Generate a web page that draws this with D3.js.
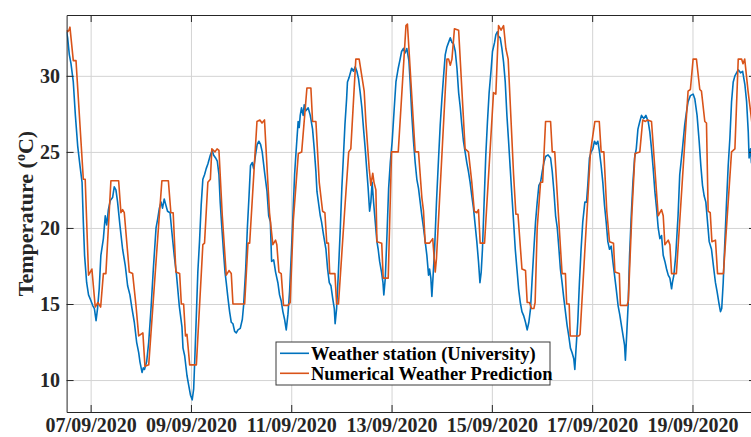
<!DOCTYPE html>
<html>
<head>
<meta charset="utf-8">
<script src="https://cdn.jsdelivr.net/npm/d3@7"></script>
<style>
  html, body { margin: 0; padding: 0; background: #fff; }
  svg { display: block; }
</style>
</head>
<body>
<svg id="chart" width="751" height="437"></svg>
<script>
// ---- data (hours since 07/09/2020 00:00, temperature in °C) ----
const seriesNames = ["Weather station (University)", "Numerical Weather Prediction"];
const xTickLabels = ["07/09/2020","09/09/2020","11/09/2020","13/09/2020","15/09/2020","17/09/2020","19/09/2020"];
const yTickValues = [10, 15, 20, 25, 30];
const yLabel = "Temperature (";

const stationSeries = [
[-11.5,32.9],[-11.0,32.5],[-10.2,31.4],[-9.4,30.8],[-8.3,29.6],[-7.3,27.4],[-6.2,25.4],[-5.1,24.1],[-4.1,23.0],[-3.5,20.4],
[-2.9,18.2],[-1.9,16.4],[-1.0,15.6],[0.2,15.2],[1.0,14.9],[1.8,14.7],[2.6,13.9],[3.3,14.7],[4.1,16.0],[4.9,18.2],
[6.1,19.3],[7.0,20.8],[7.7,20.2],[8.5,21.2],[9.4,21.8],[10.5,22.0],[11.3,22.7],[12.1,22.5],[12.9,21.7],[14.0,20.2],
[15.3,18.6],[16.6,17.5],[17.7,16.2],[18.8,15.6],[19.8,14.7],[20.9,13.8],[22.0,12.5],[23.0,11.8],[23.6,11.2],[24.6,10.5],
[25.2,10.8],[25.8,10.7],[26.8,11.2],[27.8,12.5],[28.9,14.7],[30.0,17.3],[31.3,20.0],[32.1,20.6],[32.9,21.3],[33.7,21.7],
[34.4,21.3],[35.2,21.9],[36.0,21.5],[36.8,21.1],[38.0,21.0],[38.9,19.7],[40.0,18.2],[41.1,16.9],[42.4,14.9],[43.7,13.5],
[44.2,12.1],[45.0,11.6],[46.1,10.3],[47.0,9.6],[47.8,9.0],[48.6,8.7],[49.3,9.4],[49.8,11.2],[50.6,14.3],[51.3,17.1],
[52.1,19.1],[52.9,21.5],[53.7,23.2],[54.5,23.5],[55.3,23.9],[56.1,24.2],[57.3,24.8],[58.2,25.1],[58.8,24.8],[59.8,24.6],
[60.6,24.4],[61.4,23.5],[62.0,21.7],[62.8,20.0],[63.6,18.4],[64.3,17.1],[64.9,16.4],[65.7,15.4],[66.5,14.5],[67.3,13.8],
[68.1,13.7],[68.9,13.2],[69.7,13.1],[70.5,13.3],[71.6,13.4],[72.6,14.0],[73.2,14.9],[74.2,17.3],[75.0,20.0],[75.8,22.1],
[76.5,24.1],[77.3,24.3],[78.0,23.9],[78.9,24.8],[79.7,25.5],[80.5,25.7],[81.3,25.5],[82.1,25.0],[83.2,23.7],[84.4,22.4],
[85.2,20.8],[86.0,20.4],[86.6,17.8],[87.6,17.9],[88.5,17.1],[89.6,16.4],[90.4,15.6],[91.2,15.2],[92.0,14.5],[92.8,14.0],
[93.6,13.3],[94.4,14.3],[95.2,15.8],[96.0,18.2],[96.8,20.8],[97.6,23.5],[98.2,24.8],[99.3,27.0],[99.8,26.6],[100.3,27.4],
[100.9,27.9],[101.7,27.4],[102.2,28.1],[103.0,27.7],[104.1,27.9],[105.1,27.4],[106.2,26.5],[107.0,25.2],[107.8,23.7],[108.3,22.4],
[108.9,21.8],[109.9,20.8],[110.5,20.4],[111.5,19.5],[112.6,18.6],[113.4,17.3],[114.2,16.4],[115.0,16.2],[115.8,15.4],[116.6,14.7],
[117.0,13.7],[117.7,14.7],[118.5,16.9],[119.4,19.7],[120.2,22.6],[121.0,24.8],[121.7,26.8],[122.5,28.5],[122.9,29.6],[123.7,29.9],
[124.9,30.5],[125.8,30.3],[126.6,30.6],[127.4,30.3],[128.2,29.8],[129.0,28.9],[129.8,27.9],[130.6,26.5],[131.4,25.2],[132.2,23.7],
[132.8,22.6],[133.5,21.1],[134.1,21.7],[134.7,23.0],[135.4,21.7],[136.2,20.4],[137.0,19.1],[137.6,18.6],[138.3,17.8],[139.2,17.1],
[139.9,16.4],[140.3,15.6],[141.0,16.7],[141.8,19.5],[142.6,22.6],[143.4,24.3],[144.3,25.7],[145.3,27.9],[146.1,29.6],[147.2,30.5],
[148.1,31.1],[148.8,31.6],[149.7,31.8],[150.5,31.5],[151.3,31.8],[152.3,31.0],[152.9,29.6],[153.7,27.4],[154.5,25.7],[155.3,24.3],
[156.1,23.2],[156.9,22.6],[157.7,21.7],[158.5,20.8],[159.3,20.0],[160.1,19.1],[160.9,18.2],[161.7,16.9],[162.2,17.3],[162.8,16.7],
[163.3,15.5],[163.9,16.9],[164.6,18.6],[165.5,21.7],[166.5,24.6],[167.3,26.8],[168.1,28.5],[168.9,30.0],[169.7,31.4],[170.5,31.9],
[171.3,32.2],[172.1,32.5],[172.9,32.2],[173.7,32.1],[174.5,31.6],[175.3,30.5],[176.1,28.9],[176.9,27.9],[177.6,26.8],[178.4,25.7],
[179.2,25.0],[180.0,24.3],[180.8,23.7],[181.6,23.0],[182.4,22.1],[183.2,21.3],[184.0,20.2],[184.8,19.1],[185.6,17.8],[186.3,16.4],
[186.9,17.1],[187.5,18.6],[188.3,21.7],[189.1,24.8],[189.9,27.0],[190.7,28.9],[191.7,30.5],[192.3,31.6],[193.3,32.2],[193.9,32.7],
[194.6,32.9],[195.2,32.6],[196.0,32.5],[196.8,31.8],[197.6,30.9],[198.4,29.6],[199.2,27.4],[200.0,25.7],[200.8,23.9],[201.6,22.1],
[202.4,20.4],[203.2,18.6],[204.0,17.3],[204.8,16.0],[205.6,15.1],[206.4,14.5],[207.3,14.2],[208.1,13.8],[208.9,13.3],[209.7,13.8],
[210.5,14.7],[211.3,16.7],[212.1,18.6],[212.9,20.4],[213.7,21.7],[214.5,22.8],[215.3,23.0],[216.1,23.7],[216.9,24.3],[217.7,24.7],
[218.9,24.8],[220.1,24.6],[220.9,23.7],[221.7,22.4],[222.5,20.8],[223.3,20.0],[224.1,18.6],[224.8,17.3],[225.6,16.4],[226.4,15.4],
[227.2,14.5],[228.0,13.6],[228.8,12.9],[229.6,12.1],[230.4,11.8],[231.2,11.4],[231.7,10.7],[232.3,12.1],[233.1,13.8],[233.9,16.4],
[234.7,18.6],[235.5,20.4],[236.5,21.7],[237.3,21.7],[237.9,22.8],[238.7,24.6],[239.5,25.0],[240.3,25.2],[241.1,25.7],[241.9,25.5],
[242.7,25.7],[243.5,25.0],[244.3,24.1],[245.1,23.0],[245.9,21.5],[246.7,20.4],[247.5,19.1],[248.3,18.6],[249.1,18.8],[249.9,17.8],
[250.7,16.9],[251.5,16.0],[252.4,14.9],[253.2,14.3],[254.0,13.6],[254.8,12.9],[255.5,12.3],[255.9,11.3],[256.6,13.2],[257.2,14.9],
[257.9,18.2],[258.7,20.8],[259.5,23.0],[260.3,24.6],[261.1,25.2],[261.9,26.5],[262.8,27.0],[263.6,27.4],[264.7,27.2],[265.7,27.4],
[266.8,27.0],[267.6,26.3],[268.4,25.2],[269.2,23.9],[270.0,22.4],[270.8,21.3],[271.6,20.0],[272.4,19.3],[273.2,19.5],[274.0,18.2],
[274.8,17.8],[275.6,17.3],[276.4,16.9],[277.2,16.7],[278.0,16.0],[278.4,16.4],[279.1,16.9],[280.0,18.2],[281.1,20.8],[281.9,23.5],
[283.2,25.2],[284.3,26.8],[285.1,27.6],[285.9,28.3],[287.0,28.7],[288.3,28.8],[289.1,28.5],[290.2,27.4],[291.2,25.7],[292.0,24.1],
[292.8,22.8],[293.6,22.1],[294.4,21.7],[295.2,20.4],[296.0,19.1],[297.1,18.6],[298.2,17.3],[299.0,16.4],[299.8,15.8],[300.6,15.1],
[301.4,14.5],[302.0,14.7],[302.7,16.4],[303.5,19.1],[304.3,21.7],[305.1,24.1],[305.9,25.9],[306.7,28.3],[307.5,29.6],[308.3,30.0],
[309.1,30.2],[309.9,30.4],[311.0,30.2],[312.0,30.3],[313.1,29.4],[313.9,28.3],[314.7,26.3],[315.1,24.6],[315.8,25.2],[316.2,24.3],
[317.0,24.0],[318.4,23.6]
];

const nwpSeries = [
[-11.5,33.0],[-11.0,32.9],[-10.4,33.0],[-9.9,33.2],[-8.3,31.0],[-7.0,31.0],[-3.5,23.2],[-2.6,23.2],[-1.0,16.9],[0.6,17.3],
[2.2,14.8],[3.5,15.1],[4.8,14.8],[6.1,17.0],[7.3,17.0],[9.7,23.1],[13.4,23.1],[14.5,21.0],[15.3,21.2],[16.1,21.0],
[18.5,17.1],[20.1,17.0],[21.7,14.9],[23.0,12.9],[25.0,13.1],[26.0,10.9],[27.8,11.0],[32.7,20.5],[34.1,23.1],[37.2,23.1],
[38.4,21.0],[39.5,21.0],[40.8,17.1],[42.6,17.0],[43.4,15.0],[44.5,15.0],[45.4,12.9],[46.1,13.0],[47.4,11.0],[50.6,11.0],
[53.7,18.9],[54.5,19.0],[56.1,23.0],[57.3,23.2],[58.0,25.2],[59.5,25.0],[60.5,25.2],[61.4,25.1],[63.0,20.8],[64.9,16.9],
[66.2,17.2],[67.3,17.0],[68.1,15.0],[73.7,15.0],[75.3,19.0],[76.1,19.0],[79.6,27.0],[81.0,27.1],[82.0,26.9],[83.2,27.1],
[84.4,24.0],[85.6,21.0],[87.2,18.9],[88.5,19.2],[89.1,18.9],[90.1,17.1],[91.2,17.0],[92.3,14.9],[94.4,14.9],[95.5,15.1],
[97.0,20.5],[99.4,24.9],[101.0,25.0],[103.5,29.2],[105.4,29.2],[106.2,27.0],[107.8,27.0],[109.4,23.0],[111.0,21.1],[112.1,21.0],
[113.0,19.0],[113.8,19.0],[114.4,17.0],[116.9,17.0],[117.7,15.0],[118.6,15.0],[121.5,21.0],[123.5,25.0],[124.5,25.2],[126.9,31.1],
[128.5,31.1],[130.9,29.0],[131.7,27.0],[133.3,23.9],[134.1,22.8],[135.0,23.6],[135.6,23.0],[136.5,22.5],[137.0,19.1],[139.3,19.0],
[140.0,16.7],[142.4,16.7],[144.0,25.0],[147.2,25.0],[150.9,33.3],[151.6,33.4],[155.3,25.0],[156.9,25.0],[158.5,22.0],[159.3,21.1],
[160.1,19.0],[162.2,19.0],[163.7,19.3],[164.9,17.1],[165.5,18.0],[170.5,31.1],[171.3,31.1],[172.1,30.7],[172.9,31.1],[174.1,33.1],
[176.1,33.0],[179.2,25.2],[180.8,25.0],[182.4,23.0],[183.6,21.1],[184.8,21.0],[185.6,21.2],[186.4,19.0],[188.5,19.0],[192.8,28.9],
[193.9,28.8],[195.2,33.3],[196.4,33.0],[197.6,33.3],[198.7,31.8],[199.8,31.1],[202.4,23.5],[203.5,20.9],[204.5,20.9],[206.4,17.3],
[208.1,17.2],[208.9,15.1],[210.0,15.1],[211.0,14.7],[212.1,14.7],[212.7,15.1],[213.7,20.0],[215.3,23.0],[216.3,23.0],[217.7,27.0],
[220.1,27.0],[220.9,25.0],[222.1,25.0],[223.8,21.0],[225.6,17.0],[227.2,17.0],[227.8,15.0],[229.0,15.0],[229.5,12.9],[233.6,12.9],
[234.2,13.0],[239.2,25.0],[241.3,27.0],[243.4,27.0],[244.3,25.0],[245.6,25.0],[247.0,21.1],[248.3,19.1],[250.2,19.0],[250.9,17.1],
[253.0,17.0],[253.5,14.9],[256.7,14.9],[257.3,15.2],[259.0,20.9],[260.5,24.9],[262.8,25.0],[264.2,27.1],[265.5,27.0],[266.5,27.1],
[268.4,27.0],[271.6,20.8],[272.4,21.0],[273.2,21.2],[274.0,20.8],[274.8,18.9],[276.4,19.2],[277.2,18.9],[278.0,17.0],[280.3,17.0],
[285.9,29.0],[287.0,29.1],[288.3,31.1],[289.9,31.1],[291.5,29.1],[292.3,29.0],[293.9,27.0],[294.7,26.9],[295.5,21.1],[296.5,21.0],
[297.3,19.1],[299.0,19.2],[300.0,17.0],[302.8,17.0],[306.7,25.0],[308.3,25.2],[309.9,31.1],[311.5,31.1],[312.2,30.8],[313.0,31.1],
[314.6,29.0],[316.2,27.2],[317.4,25.5],[318.4,23.8]
];

const seriesColors = ["#0072BD", "#D95319"];

// ---- chart ----
const startDate = new Date(2020, 8, 7, 0, 0, 0);
const toDate = h => new Date(startDate.getTime() + h * 3600e3);
const parseTick = d3.timeParse("%d/%m/%Y");
const xTickDates = xTickLabels.map(parseTick);

const L = 66.6, R = 756, T = 15, B = 412;
const x = d3.scaleTime().domain([toDate(-11.5), toDate(318.4)]).range([L, R]);
const y = d3.scaleLinear().domain([7.9, 34]).range([B, T]);

const svg = d3.select("#chart");
const FONT = "'Liberation Serif','Times New Roman',Times,serif";
const AX = "#262626";

// grid
const gGridX = svg.append("g").attr("transform", `translate(0,${B})`)
  .call(d3.axisBottom(x).tickValues(xTickDates).tickSize(-(B - T)).tickFormat(""));
gGridX.select(".domain").remove();
gGridX.selectAll("line").attr("stroke", "#d3d3d3").attr("stroke-width", 1);

const gGridY = svg.append("g").attr("transform", `translate(${L},0)`)
  .call(d3.axisLeft(y).tickValues(yTickValues).tickSize(-(R - L)).tickFormat(""));
gGridY.select(".domain").remove();
gGridY.selectAll("line").attr("stroke", "#d3d3d3").attr("stroke-width", 1);

// lines
svg.append("clipPath").attr("id", "clip")
  .append("rect").attr("x", L).attr("y", T).attr("width", R - L).attr("height", B - T);

const line = d3.line().x(d => x(toDate(d[0]))).y(d => y(d[1]));
const plot = svg.append("g").attr("clip-path", "url(#clip)");
[stationSeries, nwpSeries].forEach((s, i) => {
  plot.append("path").datum(s)
    .attr("fill", "none")
    .attr("stroke", seriesColors[i])
    .attr("stroke-width", 1.6)
    .attr("stroke-linejoin", "round")
    .attr("d", line);
});

// axes
function styleAxis(g) {
  g.select(".domain").attr("stroke", AX).attr("stroke-width", 1);
  g.selectAll(".tick line").attr("stroke", AX).attr("stroke-width", 1);
  g.selectAll("text").attr("fill", AX).style("font-family", FONT)
    .style("font-weight", "bold").style("font-size", "20px");
}
const gBottom = svg.append("g").attr("transform", `translate(0,${B})`)
  .call(d3.axisBottom(x).tickValues(xTickDates).tickFormat((d, i) => xTickLabels[i])
    .tickSizeInner(-7).tickSizeOuter(0).tickPadding(6));
styleAxis(gBottom);
const gTop = svg.append("g").attr("transform", `translate(0,${T})`)
  .call(d3.axisTop(x).tickValues(xTickDates).tickFormat(() => "")
    .tickSizeInner(-7).tickSizeOuter(0));
styleAxis(gTop);
const gLeft = svg.append("g").attr("transform", `translate(${L},0)`)
  .call(d3.axisLeft(y).tickValues(yTickValues).tickSizeInner(-7).tickSizeOuter(0).tickPadding(6.6));
styleAxis(gLeft);
const gRight = svg.append("g").attr("transform", `translate(${R},0)`)
  .call(d3.axisRight(y).tickValues(yTickValues).tickFormat(() => "")
    .tickSizeInner(-7).tickSizeOuter(0));
styleAxis(gRight);

// y label
const yl = svg.append("text")
  .attr("transform", `translate(33,${(T + B) / 2}) rotate(-90)`)
  .attr("text-anchor", "middle")
  .attr("fill", AX)
  .style("font-family", FONT).style("font-weight", "bold").style("font-size", "22px");
yl.append("tspan").text(yLabel);
yl.append("tspan").attr("dy", -8).style("font-size", "14px").text("o");
yl.append("tspan").attr("dy", 8).text("C)");

// legend
const lg = svg.append("g");
lg.append("rect").attr("x", 276).attr("y", 342).attr("width", 274).attr("height", 43)
  .attr("fill", "#fff").attr("stroke", "#3a3a3a").attr("stroke-width", 1);
seriesNames.forEach((name, i) => {
  const ly = 353.3 + i * 20;
  lg.append("line").attr("x1", 280).attr("x2", 309).attr("y1", ly).attr("y2", ly)
    .attr("stroke", seriesColors[i]).attr("stroke-width", 1.6);
  lg.append("text").attr("x", 311).attr("y", ly + 6.5).text(name)
    .attr("fill", "#000")
    .style("font-family", FONT).style("font-weight", "bold").style("font-size", "18.5px");
});
</script>
</body>
</html>
